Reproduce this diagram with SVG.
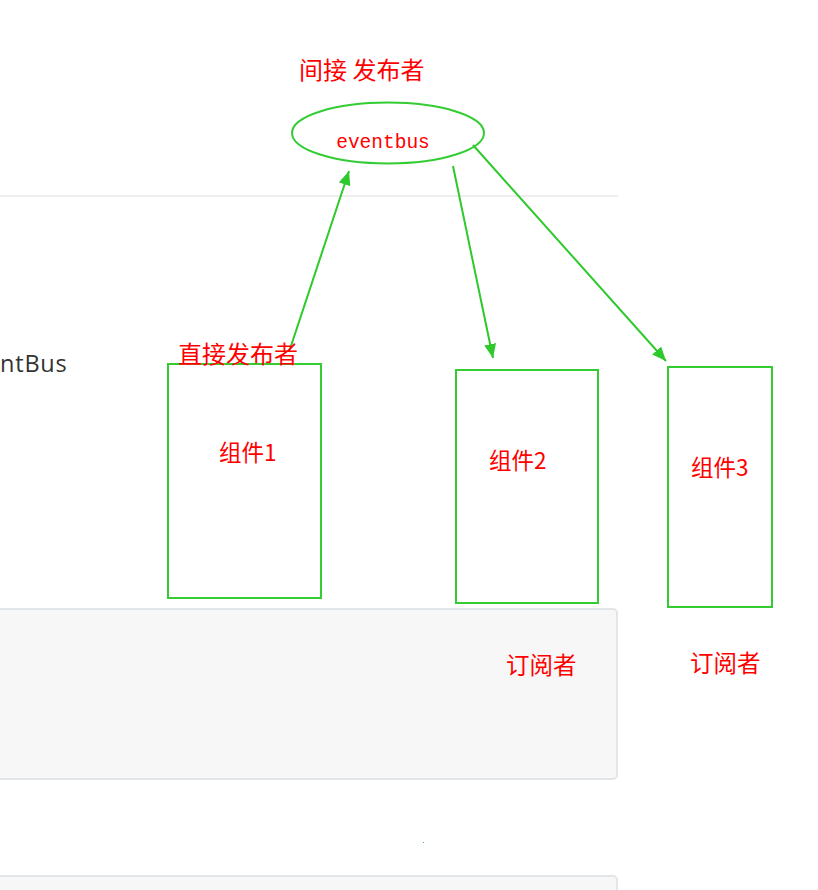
<svg xmlns="http://www.w3.org/2000/svg" width="818" height="890" viewBox="0 0 818 890">
<defs>
<style>
.bg{fill:#ffffff}
.panel{fill:#f7f7f7;stroke:#e3e6e9;stroke-width:2}
.rule{stroke:#eeeeee;stroke-width:2}
.node{fill:none;stroke:#33cc33;stroke-width:2}
.conn{stroke:#2dc92d;stroke-width:2;fill:none}
.cjk{font-family:"Noto Sans CJK SC","Liberation Serif",serif;fill:#ff0000}
.mono{font-family:"Liberation Mono",monospace;fill:#ff0000}
.page{font-family:"Open Sans","Liberation Sans",sans-serif;fill:#333333}
</style>
<marker id="ah" markerWidth="14" markerHeight="12" refX="14" refY="6" orient="auto" markerUnits="userSpaceOnUse">
<path d="M0,0 L14,6 L0,12 Z" fill="#2dc92d"/>
</marker>
</defs>
<rect class="bg" x="0" y="0" width="818" height="890"/>
<g id="page">
<line class="rule" x1="0" y1="196" x2="618" y2="196"/>
<rect class="panel" x="-10" y="609" width="627" height="170" rx="4"/>
<rect class="panel" x="-10" y="876" width="627" height="40" rx="4"/>
<text class="page" x="0" y="372" font-size="23.5" letter-spacing="0.8">ntBus</text>
<rect x="423" y="842" width="1" height="1" fill="#33cc33"/>
</g>
<g id="connectors">
<line class="conn" x1="289" y1="352" x2="349" y2="171" marker-end="url(#ah)"/>
<line class="conn" x1="453" y1="166" x2="493" y2="358" marker-end="url(#ah)"/>
<line class="conn" x1="473" y1="145" x2="666" y2="361" marker-end="url(#ah)"/>
</g>
<g id="eventbus">
<ellipse class="node" cx="388" cy="133" rx="96" ry="30.5"/>
<text class="mono" x="383" y="148" font-size="19.5" text-anchor="middle">eventbus</text>
<text class="cjk" x="299" y="79" font-size="24">间接 发布者</text>
</g>
<g id="comp1">
<rect class="node" x="168" y="364" width="153" height="234"/>
<text class="cjk" x="219" y="461" font-size="22.5">组件1</text>
<text class="cjk" x="178" y="363" font-size="24">直接发布者</text>
</g>
<g id="comp2">
<rect class="node" x="456" y="370" width="142" height="233"/>
<text class="cjk" x="489" y="469" font-size="22.5">组件2</text>
<text class="cjk" x="506" y="674" font-size="23.5">订阅者</text>
</g>
<g id="comp3">
<rect class="node" x="668" y="367" width="104" height="240"/>
<text class="cjk" x="691" y="476" font-size="22.5">组件3</text>
<text class="cjk" x="690" y="672" font-size="23.5">订阅者</text>
</g>
</svg>
